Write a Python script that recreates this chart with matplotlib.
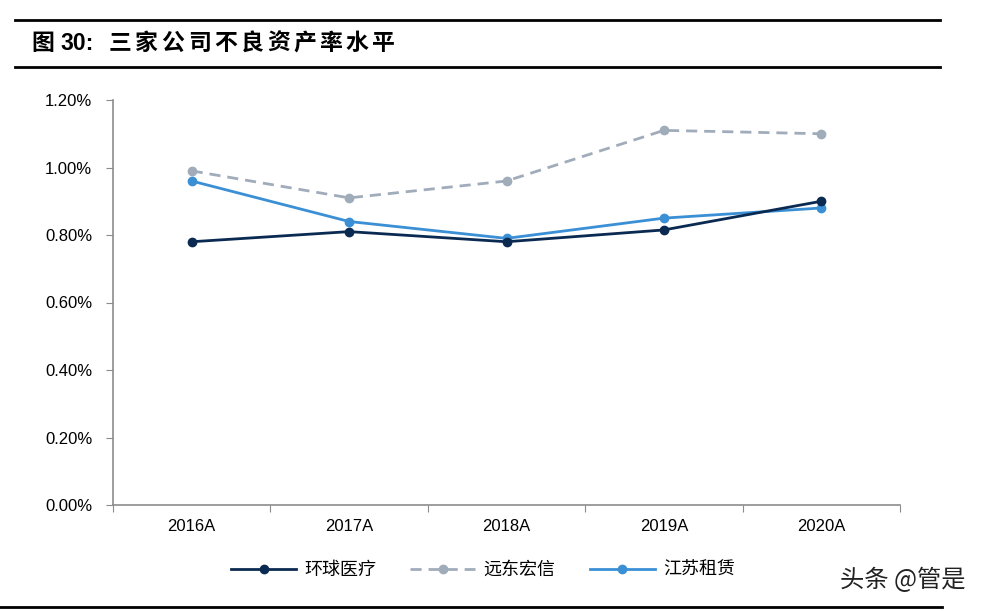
import matplotlib
matplotlib.use("Agg")
import matplotlib.pyplot as plt
from matplotlib.lines import Line2D

plt.rcParams['font.family'] = ['Liberation Sans', 'Noto Sans CJK SC', 'DejaVu Sans']

years = ["2016A", "2017A", "2018A", "2019A", "2020A"]
huanqiu = [0.78, 0.81, 0.78, 0.815, 0.90]
yuandong = [0.99, 0.91, 0.96, 1.11, 1.10]
jiangsu = [0.96, 0.84, 0.79, 0.85, 0.88]
yticks = [0.0, 0.2, 0.4, 0.6, 0.8, 1.0, 1.2]
title_text = "三家公司不良资产率水平"

c_dark = "#0b2a52"
c_gray = "#a1acbb"
c_blue = "#3b8fd5"

fig = plt.figure(figsize=(9.82, 6.11), dpi=100)
W, H = 982, 611

# axes box in pixels: left 113, right 900, top 100, bottom 505
ax = fig.add_axes([113 / W, 1 - 505 / H, (900 - 113) / W, (505 - 100) / H])

x = list(range(len(years)))
ax.plot(x, huanqiu, color=c_dark, lw=2, marker="o", ms=6, label="环球医疗", zorder=3)
ax.plot(x, yuandong, color=c_gray, lw=2, ls=(0, (4, 2.5)), marker="o", ms=6, label="远东宏信", zorder=2)
ax.plot(x, jiangsu, color=c_blue, lw=2, marker="o", ms=6, label="江苏租赁", zorder=2)

ax.set_xlim(-0.5, len(years) - 0.5)
ax.set_ylim(0, 1.2)
ax.set_yticks(yticks)
ax.set_yticklabels([f"{v:.2f}%" for v in yticks], fontsize=12)

ax.set_xticks([i - 0.5 for i in range(len(years) + 1)])
ax.set_xticklabels([])
ax.set_xticks(x, minor=True)
ax.set_xticklabels(years, minor=True, fontsize=12)
ax.tick_params(axis="x", which="minor", length=0, pad=10)
ax.tick_params(axis="x", which="major", length=5, color="#8c8c8c", direction="out")
ax.tick_params(axis="y", length=5, color="#8c8c8c", direction="out", pad=10)

for s in ["top", "right"]:
    ax.spines[s].set_visible(False)
for s in ["left", "bottom"]:
    ax.spines[s].set_color("#8c8c8c")
    ax.spines[s].set_linewidth(1.2)

leg = fig.legend(loc="center", bbox_to_anchor=(483 / W, 1 - 570 / H), ncol=3, frameon=False,
                 prop={"family": "Noto Sans CJK SC", "size": 13}, handlelength=3.6,
                 columnspacing=1.9, handletextpad=0.45)

# title and rules
fig.add_artist(Line2D([15 / W, 940 / W], [1 - 20 / H, 1 - 20 / H], color="black", lw=2))
fig.add_artist(Line2D([15 / W, 940 / W], [1 - 67 / H, 1 - 67 / H], color="black", lw=2))
fig.add_artist(Line2D([0 / W, 942 / W], [1 - 607 / H, 1 - 607 / H], color="black", lw=2))
fig.text(31 / W, 1 - 43 / H, "图", fontsize=16.5, fontweight="bold",
         family=["Noto Sans CJK SC"], va="center", ha="left")
fig.text(60 / W, 1 - 43 / H, "30:", fontsize=16.5, fontweight="bold",
         family=["Liberation Sans"], va="center", ha="left")
for i, ch in enumerate(title_text):
    fig.text((109 + i * 26.3) / W, 1 - 43 / H, ch, fontsize=16.5, fontweight="bold",
             family=["Noto Sans CJK SC"], va="center", ha="left")

fig.text(965 / W, 1 - 580 / H, "头条 @管是", fontsize=17.5, color="#222222",
         family=["Noto Sans CJK SC"], va="center", ha="right")

fig.savefig("out.png", dpi=100)
